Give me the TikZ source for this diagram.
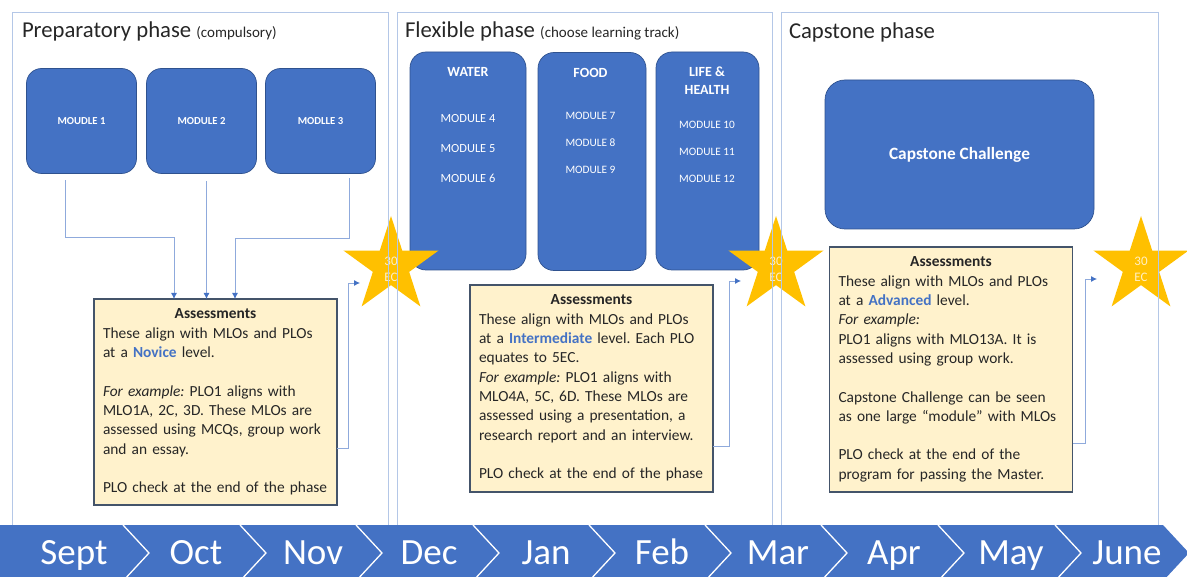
\documentclass[tikz,border=0pt]{standalone}
\usepackage{fontspec}
\setmainfont{Carlito}
\usepackage{xcolor}
\usepackage{tikz}
\usetikzlibrary{shapes,arrows,positioning,calc,arrows.meta}

\definecolor{modblue}{HTML}{4472C4}
\definecolor{modedge}{HTML}{2F528F}
\definecolor{frameblue}{HTML}{B4C7E7}
\definecolor{linkblue}{HTML}{8FAADC}
\definecolor{notefill}{HTML}{FFF2CC}
\definecolor{noteedge}{HTML}{44546A}
\definecolor{starfill}{HTML}{FFC000}
\definecolor{startext}{HTML}{FFEFC4}
\definecolor{ink}{HTML}{262626}

\newcommand{\levelword}[1]{\textcolor{modblue}{\bfseries #1}}
\frenchspacing

\begin{document}
\begin{tikzpicture}[x=1pt, y=1pt,
    every node/.style={inner sep=0pt, outer sep=0pt, text=ink},
    phase/.style={anchor=base west, font=\fontsize{22.7}{27}\selectfont},
    module/.style={rectangle, rounded corners=15pt, draw=modedge, line width=0.7pt, fill=modblue, text=white, font=\fontsize{10.7}{13}\selectfont\bfseries, minimum width=110pt, minimum height=105pt},
    track/.style={rectangle, rounded corners=16pt, draw=modedge, line width=0.7pt, fill=modblue, minimum height=218pt},
    trackhead/.style={anchor=base, text=white, font=\fontsize{14}{17}\selectfont\bfseries},
    trackmod/.style={anchor=base, text=white, font=\fontsize{11.3}{14}\selectfont},
    assess/.style={rectangle, draw=noteedge, line width=1.4pt, fill=notefill, align=left, text width=230pt, inner xsep=6.5pt, inner ysep=5pt, text height=15pt, font=\fontsize{15.4}{19.3}\selectfont},
    ecstar/.style={star, star points=5, star point ratio=2.618, fill=starfill, minimum size=100pt},
    ectext/.style={align=center, text=startext, font=\fontsize{13}{15.7}\selectfont},
    link/.style={draw=linkblue, line width=0.8pt, -{Latex[length=6pt, width=6pt, color=modblue]}},
    month/.style={anchor=base, text=white, font=\fontsize{37}{44}\selectfont}]
    \useasboundingbox (0,0) rectangle (1187,-577);

    % preparatory phase
    \node[phase] (p1) at (22,-37.5) {Preparatory phase {\fontsize{15}{18}\selectfont(compulsory)}};
    \node[module] (m1) at (81.5,-121) {MOUDLE 1};
    \node[module, right of=m1, node distance=120pt] (m2) {MODULE 2};
    \node[module, right of=m2, node distance=119pt] (m3) {MODLLE 3};
    \node[assess, text depth=181pt] (as1) at (215.5,-402) {\makebox[\linewidth]{\bfseries Assessments}\\
        \hspace*{2.5pt}These align with MLOs and PLOs\\
        \hspace*{2.5pt}at a \levelword{Novice} level.\\[19.3pt]
        \hspace*{2.5pt}\textit{For example:} PLO1 aligns with\\
        \hspace*{2.5pt}MLO1A, 2C, 3D. These MLOs are\\
        \hspace*{2.5pt}assessed using MCQs, group work\\
        \hspace*{2.5pt}and an essay.\\[19.3pt]
        \hspace*{2.5pt}PLO check at the end of the phase};

    % flexible phase
    \node[phase] (p2) at (405,-38) {Flexible phase {\fontsize{15}{18}\selectfont(choose learning track)}};
    \node[track, minimum width=116pt] (water) at (468,-161) {};
    \node[track, minimum width=108pt] (food) at (592,-161.5) {};
    \node[track, minimum width=103pt] (life) at (707.5,-161) {};
    \node[trackhead] (waterhd) at (468,-77) {WATER};
    \node[trackmod, font=\fontsize{12.4}{15}\selectfont] (m4) at (468,-123) {MODULE 4};
    \node[trackmod, font=\fontsize{12.4}{15}\selectfont] (m5) at (468,-152.5) {MODULE 5};
    \node[trackmod, font=\fontsize{12.4}{15}\selectfont] (m6) at (468,-183) {MODULE 6};
    \node[trackhead] (foodhd) at (590.5,-78) {FOOD};
    \node[trackmod] (m7) at (590.5,-119.5) {MODULE 7};
    \node[trackmod] (m8) at (590.5,-147) {MODULE 8};
    \node[trackmod] (m9) at (590.5,-173.5) {MODULE 9};
    \node[trackhead] (lifehd) at (707,-77) {LIFE \&};
    \node[trackhead] (healthhd) at (707,-95) {HEALTH};
    \node[trackmod] (m10) at (707,-128.5) {MODULE 10};
    \node[trackmod] (m11) at (707,-155.5) {MODULE 11};
    \node[trackmod] (m12) at (707,-182.5) {MODULE 12};
    \node[assess, text depth=182pt] (as2) at (591.5,-388.5) {\makebox[\linewidth]{\bfseries Assessments}\\
        \hspace*{2.5pt}These align with MLOs and PLOs\\
        \hspace*{2.5pt}at a \levelword{Intermediate} level. Each PLO\\
        \hspace*{2.5pt}equates to 5EC.\\
        \hspace*{2.5pt}\textit{For example:} PLO1 aligns with\\
        \hspace*{2.5pt}MLO4A, 5C, 6D. These MLOs are\\
        \hspace*{2.5pt}assessed using a presentation, a\\
        \hspace*{2.5pt}research report and an interview.\\[19.3pt]
        \hspace*{2.5pt}PLO check at the end of the phase};

    % capstone phase
    \node[phase] (p3) at (789,-39) {Capstone phase};
    \node[module, minimum width=269pt, minimum height=149pt, rounded corners=20pt, font=\fontsize{17.3}{20}\selectfont\bfseries] (cap) at (959.5,-154.5) {Capstone Challenge};
    \node[assess, text depth=220pt] (as3) at (951,-369.5) {\makebox[\linewidth]{\bfseries Assessments}\\
        \hspace*{2.5pt}These align with MLOs and PLOs\\
        \hspace*{2.5pt}at a \levelword{Advanced} level.\\
        \hspace*{2.5pt}\textit{For example:}\\
        \hspace*{2.5pt}PLO1 aligns with MLO13A. It is\\
        \hspace*{2.5pt}assessed using group work.\\[19.3pt]
        \hspace*{2.5pt}Capstone Challenge can be seen\\
        \hspace*{2.5pt}as one large “module” with MLOs\\[19.3pt]
        \hspace*{2.5pt}PLO check at the end of the\\
        \hspace*{2.5pt}program for passing the Master.};

    % 30 EC stars
    \node[ecstar] (star1) at (391,-266) {};
    \node[ecstar] (star2) at (776,-266) {};
    \node[ecstar] (star3) at (1141,-266) {};
    \node[ectext] (ec1) at ([yshift=-3pt]star1.center) {30\\EC};
    \node[ectext] (ec2) at ([yshift=-3pt]star2.center) {30\\EC};
    \node[ectext] (ec3) at ([yshift=-3pt]star3.center) {30\\EC};

    \draw[link] ([xshift=-16.5pt,yshift=-7pt]m1.south) -- ++(0,-57) -| ([xshift=-41.5pt]as1.north);
    \draw[link] ([xshift=5pt,yshift=-8pt]m2.south) -- ([xshift=-9pt]as1.north);
    \draw[link] ([xshift=28.5pt,yshift=-5pt]m3.south) -- ++(0,-60) -| ([xshift=19.5pt]as1.north);
    \draw[link] ([yshift=-46pt]as1.east) -- ++(11,0) |- ([xshift=-31pt,yshift=-17pt]star1.center);
    \draw[link] ([yshift=-57.5pt]as2.east) -- ++(16,0) |- ([xshift=-35pt,yshift=-15pt]star2.center);
    \draw[link] ([yshift=-73.5pt]as3.east) -- ++(13,0) |- ([xshift=-44pt,yshift=-13pt]star3.center);

    % phase frames
    \draw[frameblue, line width=1pt] (12.5,-13) rectangle (388,-530);
    \draw[frameblue, line width=1pt] (397,-13) rectangle (772,-530);
    \draw[frameblue, line width=1pt] (781,-13) rectangle (1158,-530);

    % timeline
    \fill[modblue] (0,-525) -- (1163,-525) -- (1189,-553) -- (1163,-581) -- (0,-581) -- cycle;
    \draw[white, line width=1.3pt] (123,-525) -- (149,-553) -- (123,-581)
        (240,-525) -- (266,-553) -- (240,-581)
        (356,-525) -- (382,-553) -- (356,-581)
        (473,-525) -- (499,-553) -- (473,-581)
        (589,-525) -- (615,-553) -- (589,-581)
        (705,-525) -- (731,-553) -- (705,-581)
        (821,-525) -- (847,-553) -- (821,-581)
        (938,-525) -- (964,-553) -- (938,-581)
        (1055,-525) -- (1081,-553) -- (1055,-581);
    \node[month] (sept) at (74,-564) {Sept};
    \node[month] (oct) at (196,-564) {Oct};
    \node[month] (nov) at (313,-564) {Nov};
    \node[month] (dec) at (429,-564) {Dec};
    \node[month] (jan) at (546,-564) {Jan};
    \node[month] (feb) at (662,-564) {Feb};
    \node[month] (mar) at (778,-564) {Mar};
    \node[month] (apr) at (894,-564) {Apr};
    \node[month] (may) at (1011,-564) {May};
    \node[month] (june) at (1127,-564) {June};
\end{tikzpicture}
\end{document}
